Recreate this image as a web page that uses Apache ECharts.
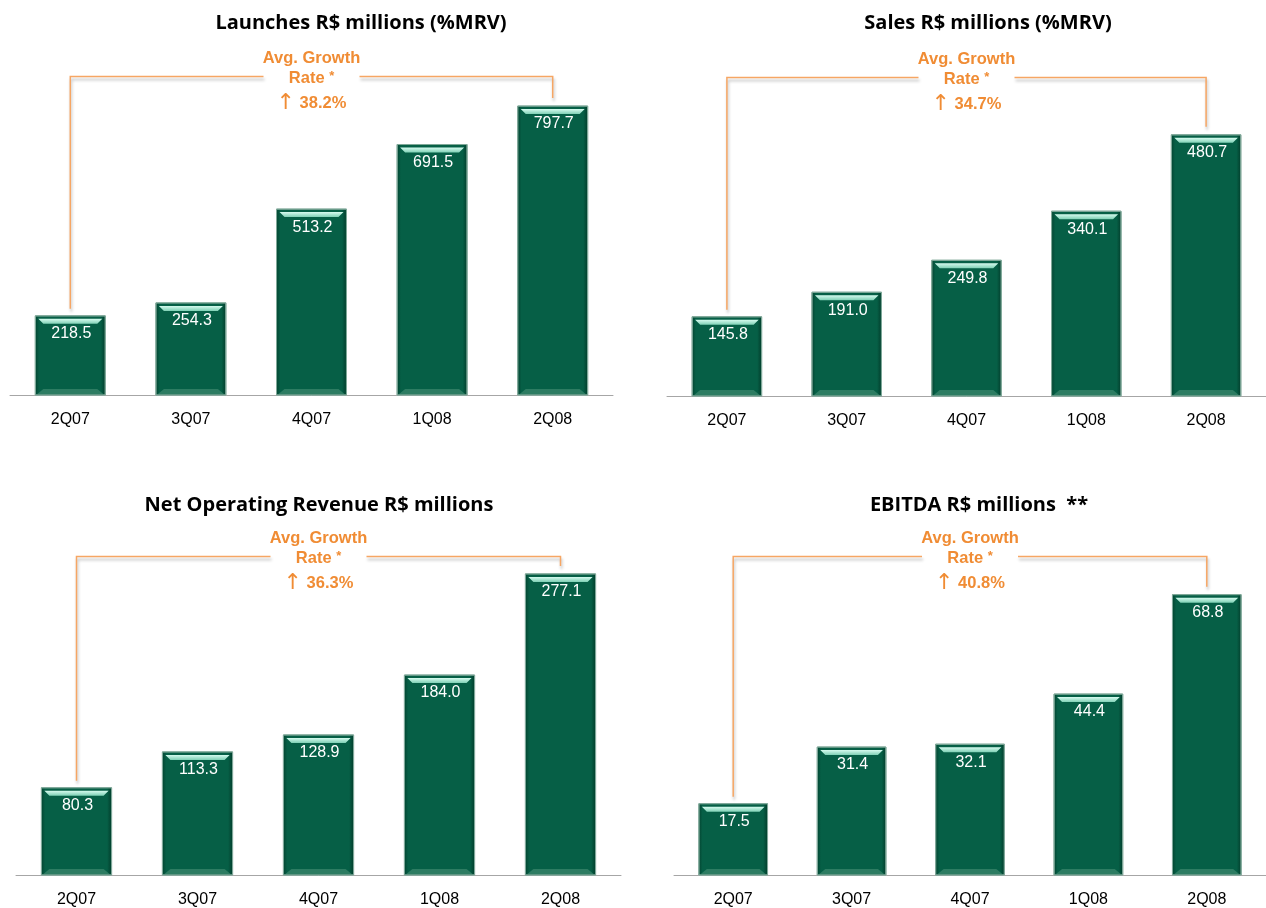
<!DOCTYPE html>
<html><head><meta charset="utf-8">
<script src="https://cdn.jsdelivr.net/npm/echarts@6/dist/echarts.min.js"></script>
<style>html,body{margin:0;padding:0;background:#fff}#c{width:1266px;height:908px}</style>
</head><body><div id="c"></div>
<script>
// ---- data ----
const categories = ['2Q07', '3Q07', '4Q07', '1Q08', '2Q08'];
const launches = [218.5, 254.3, 513.2, 691.5, 797.7];
const sales = [145.8, 191.0, 249.8, 340.1, 480.7];
const netRevenue = [80.3, 113.3, 128.9, 184.0, 277.1];
const ebitda = [17.5, 31.4, 32.1, 44.4, 68.8];
const titles = ['Launches R$ millions (%MRV)', 'Sales R$ millions (%MRV)', 'Net Operating Revenue R$ millions', 'EBITDA R$ millions  **'];
const growthRates = ['38.2%', '34.7%', '36.3%', '40.8%'];
const axisMax = [900, 600, 300, 80];

// ---- layout ----
const seriesData = [launches, sales, netRevenue, ebitda];
const grids = [
  {left: 10, width: 603, top: 69, height: 326},
  {left: 667, width: 603, top: 70, height: 326},
  {left: 16, width: 605, top: 549, height: 326},
  {left: 674, width: 604, top: 549, height: 326}
];
const titlePos = [[356, 8], [983, 8], [314, 490], [974, 490]];

const ORANGE_TEXT = '#F08C34';
const ORANGE_LINE = '#F6A664';
const SANS = '"Liberation Sans", Arial, sans-serif';

function renderBar(params, api) {
  const idx = api.value(0), v = api.value(1);
  const top = api.coord([idx, v]);
  const base = api.coord([idx, 0]);
  const w = api.size([1, 0])[0] * 0.58;
  const x = top[0] - w / 2, y = top[1], h = base[1] - top[1];
  return {
    type: 'group',
    children: [
      {type: 'rect', shape: {x: x, y: y, width: w, height: h},
        style: {fill: new echarts.graphic.LinearGradient(0, 0, 1, 0, [
          {offset: 0, color: '#03422f'}, {offset: 0.06, color: '#065f46'},
          {offset: 0.93, color: '#065f46'}, {offset: 1, color: '#023a29'}]),
          stroke: '#7fa899', lineWidth: 1}},
      {type: 'polygon', shape: {points: [[x + 3, y + 3], [x + w - 3, y + 3], [x + w - 8, y + 8], [x + 8, y + 8]]},
        style: {fill: new echarts.graphic.LinearGradient(0, 0, 0, 1, [
          {offset: 0, color: '#d6fbef'}, {offset: 1, color: '#7fd0b5'}])}},
      {type: 'polygon', shape: {points: [[x + 2, y + h - 1], [x + w - 2, y + h - 1], [x + w - 8, y + h - 6], [x + 8, y + h - 6]]},
        style: {fill: '#2d7c62'}},
      {type: 'text', style: {text: v.toFixed(1), x: x + w / 2 + 1, y: y + 18, fill: '#ffffff',
        fontSize: 16, fontFamily: SANS, align: 'center', verticalAlign: 'middle'}}
    ]
  };
}

const chart = echarts.init(document.getElementById('c'), null, {renderer: 'canvas'});
const option = {
  animation: false,
  backgroundColor: '#ffffff',
  title: titles.map((t, i) => ({
    text: t, left: titlePos[i][0], top: titlePos[i][1], textAlign: 'center',
    textStyle: {fontFamily: '"Open Sans", sans-serif', fontWeight: 'bold', fontSize: 20, color: '#000'}
  })),
  grid: grids.map(g => Object.assign({containLabel: false}, g)),
  xAxis: grids.map((g, i) => ({
    type: 'category', gridIndex: i, data: categories,
    axisLine: {lineStyle: {color: '#a6a6a6', width: 1}},
    axisTick: {length: 5, lineStyle: {color: '#7f7f7f'}},
    axisLabel: {color: '#000', fontSize: 16, fontFamily: SANS, margin: 17}
  })),
  yAxis: grids.map((g, i) => ({
    type: 'value', gridIndex: i, min: 0, max: axisMax[i], show: false, splitLine: {show: false}
  })),
  series: seriesData.map((d, i) => ({
    type: 'custom', xAxisIndex: i, yAxisIndex: i,
    data: d.map((v, j) => [j, v]),
    encode: {x: 0, y: 1},
    renderItem: renderBar
  }))
};
chart.setOption(option);

// ---- growth brackets, positioned through the axes ----
const graphics = [];
seriesData.forEach((d, i) => {
  const f = {gridIndex: i};
  const yLine = chart.convertToPixel(f, [categories[0], axisMax[i]])[1] + 7.5;
  const first = chart.convertToPixel(f, [categories[0], d[0]]);
  const last = chart.convertToPixel(f, [categories[4], d[4]]);
  const mid = chart.convertToPixel(f, [categories[2], 0])[0];
  const gap = 48;
  const lineStyle = {stroke: ORANGE_LINE, lineWidth: 1.5, fill: null,
    shadowColor: 'rgba(0,0,0,0.28)', shadowBlur: 3, shadowOffsetX: 1, shadowOffsetY: 3};
  graphics.push({type: 'polyline', silent: true,
    shape: {points: [[first[0], first[1] - 7], [first[0], yLine], [mid - gap, yLine]]}, style: lineStyle});
  graphics.push({type: 'polyline', silent: true,
    shape: {points: [[mid + gap, yLine], [last[0], yLine], [last[0], last[1] - 8]]}, style: lineStyle});
  const fontBase = {fontFamily: SANS, fontWeight: 'bold', fontSize: 16.5, fill: ORANGE_TEXT, align: 'center', verticalAlign: 'middle'};
  graphics.push({type: 'text', silent: true, style: Object.assign({text: 'Avg. Growth', x: mid, y: yLine - 18}, fontBase)});
  graphics.push({type: 'text', silent: true, style: Object.assign({}, fontBase, {
    text: 'Rate {s|*}', x: mid, y: yLine + 2,
    rich: {s: {fontSize: 13, fontWeight: 'bold', fill: ORANGE_TEXT, fontFamily: SANS, verticalAlign: 'top', padding: [0, 0, 4, 0]}}
  })});
  graphics.push({type: 'text', silent: true, style: Object.assign({}, fontBase, {
    text: '{a|↑} {b|' + growthRates[i] + '}', x: mid, y: yLine + 27,
    rich: {a: {fontSize: 22, fontWeight: 'normal', fill: ORANGE_TEXT, fontFamily: '"DejaVu Sans", sans-serif'},
           b: {fontSize: 16.5, fontWeight: 'bold', fill: ORANGE_TEXT, fontFamily: SANS}}
  })});
});
chart.setOption({graphic: graphics});
</script>
</body></html>
